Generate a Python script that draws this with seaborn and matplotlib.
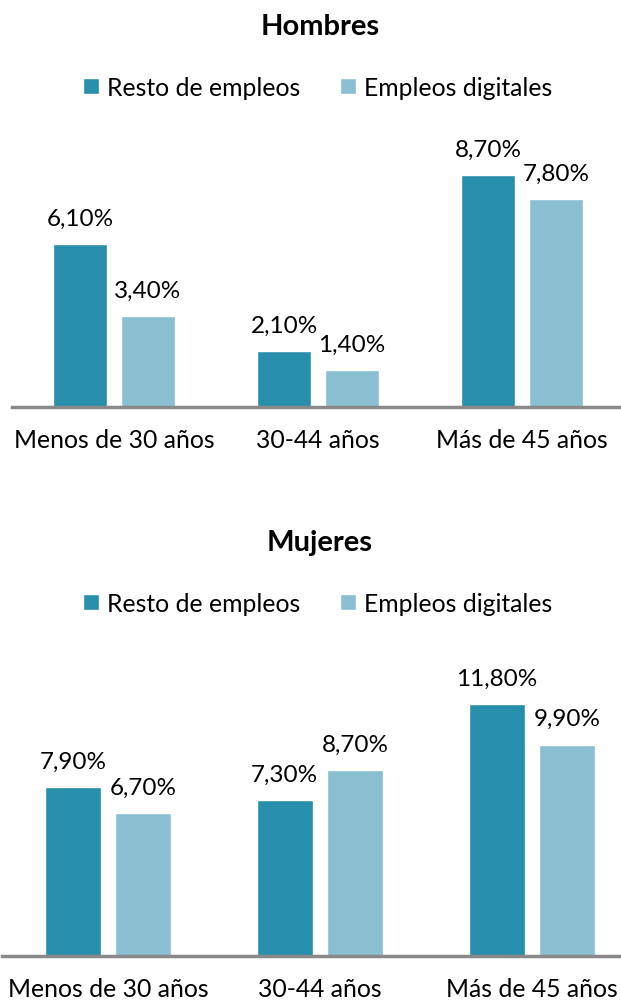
import numpy as np
import pandas as pd
import matplotlib
matplotlib.use("Agg")
import matplotlib.pyplot as plt
import seaborn as sns

# data
categories = ["Menos de 30 años", "30-44 años", "Más de 45 años"]
series_names = ["Resto de empleos", "Empleos digitales"]
hombres_resto = [6.1, 2.1, 8.7]
hombres_digital = [3.4, 1.4, 7.8]
mujeres_resto = [7.9, 7.3, 11.8]
mujeres_digital = [6.7, 8.7, 9.9]

dark = "#278FAB"
light = "#8ABFD1"

sns.set_style("white")
plt.rcParams["font.family"] = ["Lato", "DejaVu Sans"]
plt.rcParams["text.color"] = "black"


def long_df(resto, digital):
    return pd.DataFrame({
        "grupo": categories * 2,
        "serie": [series_names[0]] * 3 + [series_names[1]] * 3,
        "valor": resto + digital,
    })


fig = plt.figure(figsize=(6.21, 10.04), dpi=100)
H = 1004.0
W = 621.0

panels = [
    ("Hombres", hombres_resto, hombres_digital, 10, 408, 12, 612, 27, 88),
    ("Mujeres", mujeres_resto, mujeres_digital, 14, 957, 2, 636, 543, 604),
]

for title, resto, digital, ymax, base_px, left_px, width_px, title_px, leg_px in panels:
    # scale so that px per unit matches the reference
    ppu = 232 / 8.7 if ymax == 10 else 252 / 11.8
    height_px = ymax * ppu
    ax = fig.add_axes([left_px / W, (H - base_px) / H, width_px / W, height_px / H])
    df = long_df(resto, digital)
    sns.barplot(data=df, x="grupo", y="valor", hue="serie", palette=[dark, light],
                width=0.665, gap=0.2, saturation=1, ax=ax)
    ax.set_ylim(0, ymax)
    ax.set_xlabel("")
    ax.set_ylabel("")
    ax.set_yticks([])
    for s in ["top", "left", "right"]:
        ax.spines[s].set_visible(False)
    ax.spines["bottom"].set_color("#898989")
    ax.spines["bottom"].set_linewidth(2.5)
    ax.tick_params(axis="x", length=0, pad=15, labelsize=17.8, labelcolor="black")

    for cont in ax.containers:
        labels = [f"{v:.2f}%".replace(".", ",") for v in cont.datavalues]
        ax.bar_label(cont, labels=labels, padding=11, fontsize=17.5, color="black")

    handles, labels = ax.get_legend_handles_labels()
    ax.get_legend().remove()
    fig.legend(handles, labels, loc="center", bbox_to_anchor=(318 / W, 1 - leg_px / H),
               ncol=2, frameon=False, fontsize=17.8, handlelength=0.62, handleheight=0.62,
               handletextpad=0.35, columnspacing=1.6, labelcolor="black")
    fig.text(320 / W, 1 - title_px / H, title, ha="center", va="center",
             fontsize=21, fontweight="bold", color="black")

fig.savefig("out.png", dpi=100)
